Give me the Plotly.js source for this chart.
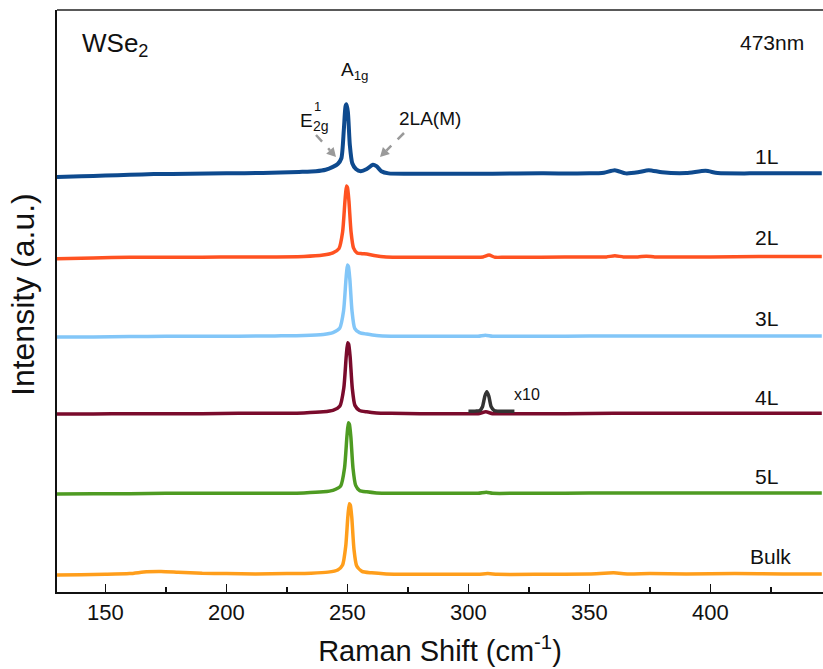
<!DOCTYPE html>
<html>
<head>
<meta charset="utf-8">
<script src="https://cdn.plot.ly/plotly-3.0.1.min.js"></script>
<style>
html,body{margin:0;padding:0;overflow:hidden;background:#fff;}
#chart{width:823px;height:669px;}
</style>
</head>
<body>
<div id="chart"></div>
<script>
// ---- data (Raman shift in cm-1, intensity normalised to A1g peak) ----
const layers = ["1L", "2L", "3L", "4L", "5L", "Bulk"];
const offsets = [5.528, 4.403, 3.306, 2.236, 1.125, 0];

const x1L = [130,140,150,160,170,185,200,215,230,237,241,244,246,247.5,248.5,249.2,249.6,250.2,251,252,253.5,255.5,258,260.5,262,264,267,275,290,310,330,350,356,360.5,365,370,374.5,380,390,398,403,420,446];
const y1L = [0,0.01,0.02,0.03,0.04,0.045,0.05,0.055,0.07,0.08,0.10,0.14,0.18,0.26,0.65,0.98,1.01,0.9,0.44,0.19,0.11,0.08,0.11,0.17,0.15,0.08,0.05,0.045,0.045,0.045,0.05,0.05,0.06,0.095,0.05,0.065,0.095,0.065,0.055,0.085,0.055,0.05,0.05];

const x2L = [130,145,160,175,190,205,220,232,240,244,246.5,248,249,249.6,250,250.6,251.5,252.5,254,256,258,261,266,275,290,303,306,308.5,311,315,330,350,357,360.5,364,370,373.5,377,385,400,420,446];
const y2L = [-0.01,0,0.01,0.01,0.01,0.015,0.015,0.02,0.04,0.07,0.13,0.36,0.8,1.0,0.98,0.8,0.36,0.14,0.07,0.06,0.055,0.035,0.015,0.01,0.01,0.01,0.015,0.04,0.01,0.01,0.01,0.015,0.015,0.03,0.015,0.015,0.025,0.015,0.015,0.015,0.02,0.02];

const x3L = [130,145,160,175,190,205,220,232,240,244,246.8,248.4,249.4,250,250.4,251,251.9,253,255,258,262,268,280,295,304,307,310,320,340,360,375,400,420,446];
const y3L = [0,0,0.005,0.01,0.01,0.01,0.015,0.02,0.035,0.06,0.12,0.36,0.8,1.0,0.98,0.8,0.36,0.12,0.06,0.04,0.02,0.01,0.01,0.01,0.01,0.025,0.01,0.01,0.01,0.015,0.015,0.015,0.015,0.015];

const x4L = [130,145,160,175,190,205,220,232,240,244,246.9,248.5,249.5,250.1,250.5,251.1,252,253.1,255,258,262,268,280,295,304,307.2,310,320,340,360,375,400,420,446];
const y4L = [0,0,0.005,0.005,0.005,0.01,0.01,0.015,0.03,0.05,0.11,0.36,0.8,0.99,0.97,0.8,0.36,0.12,0.05,0.03,0.015,0.01,0.005,0.005,0.005,0.03,0.005,0.005,0.005,0.01,0.01,0.01,0.01,0.01];

const x5L = [130,145,160,175,190,205,220,232,240,244,247.2,248.8,249.8,250.4,250.8,251.4,252.3,253.4,255,258,262,268,280,295,304,307.4,310,320,340,360,375,400,420,446];
const y5L = [0,0.005,0.005,0.01,0.01,0.01,0.01,0.015,0.03,0.05,0.11,0.36,0.8,0.99,0.97,0.8,0.36,0.12,0.05,0.03,0.015,0.01,0.01,0.01,0.01,0.025,0.01,0.01,0.01,0.015,0.015,0.015,0.015,0.015];

const xBulk = [130,140,150,160,167,173,180,190,200,212,225,235,242,246,248,249.3,250.2,250.8,251.2,251.8,252.7,253.8,256,260,266,275,290,304,308,312,330,350,360,366,375,390,410,430,446];
const yBulk = [0,0.005,0.01,0.02,0.045,0.05,0.04,0.025,0.02,0.015,0.02,0.025,0.04,0.07,0.14,0.4,0.82,0.99,0.97,0.8,0.36,0.13,0.05,0.03,0.015,0.01,0.01,0.01,0.02,0.01,0.01,0.015,0.03,0.015,0.02,0.015,0.02,0.015,0.015];

// magnified (x10) 307 cm-1 mode on 4L
const xZoom = [300,303,304.8,305.8,306.8,307.6,308.4,309.4,310.6,312,315,319];
const yZoom = [0.04,0.04,0.05,0.1,0.25,0.31,0.25,0.1,0.05,0.04,0.04,0.04];

const colors = ["#0E4A8E", "#FF5221", "#82C6F8", "#7A0B2C", "#4E9B22", "#FF9E1B"];
const xs = [x1L, x2L, x3L, x4L, x5L, xBulk];
const ys = [y1L, y2L, y3L, y4L, y5L, yBulk];

const FONT = "Liberation Sans, Arial, sans-serif";
const X0 = 130, X1 = 446.5, Y0 = -0.236, Y1 = 7.847;

const traces = layers.map((name, i) => ({
  type: "scatter", mode: "lines", name: name,
  x: xs[i], y: ys[i].map(v => v + offsets[i]),
  line: {color: colors[i], width: i === 0 ? 4 : 3.5, shape: "spline", smoothing: 0.6},
  hoverinfo: "x+name"
}));
traces.push({
  type: "scatter", mode: "lines", name: "4L x10",
  x: xZoom, y: yZoom.map(v => v + offsets[3]),
  line: {color: "#333333", width: 3.5, shape: "spline", smoothing: 0.6},
  hoverinfo: "skip"
});

const labelY = [5.806, 4.681, 3.569, 2.472, 1.375, 0.264];
const annotations = layers.map((name, i) => ({
  x: name === "Bulk" ? 425 : 423, y: labelY[i], xref: "x", yref: "y",
  text: name, showarrow: false, font: {family: FONT, size: 21, color: "#111"},
  xanchor: "center", yanchor: "middle"
}));
const PX = p => (p - 57) / 766;
const PY = p => (592 - p) / 582;
function txt(t, px, py, size, anchor, angle) {
  return {xref: "paper", yref: "paper", x: PX(px), y: PY(py), text: t, showarrow: false,
    font: {family: FONT, size: size, color: "#111"}, xanchor: anchor || "center", yanchor: "middle",
    textangle: angle || 0};
}
annotations.push(txt("WSe<sub>2</sub>", 80, 44, 26, "left"));
annotations.push(txt("473nm", 806, 42, 21, "right"));
annotations.push(txt("A<sub>1g</sub>", 339, 71, 19, "left"));
annotations.push(txt("E", 306.5, 120, 19, "center"));
annotations.push(txt("1", 317.5, 107, 13, "center"));
annotations.push(txt("2g", 320.5, 126, 14, "center"));
annotations.push(txt("2LA(M)", 430, 118, 19, "center"));
annotations.push(txt("x10", 527, 394, 16, "center"));
annotations.push(txt("Intensity (a.u.)", 23, 295, 32, "center", -90));

function tri(pts) {
  return "M" + pts.map(p => PX(p[0]) + "," + PY(p[1])).join(" L") + " Z";
}
const shapes = [
  {type: "line", xref: "paper", yref: "paper", x0: 0, x1: 1, y0: 1, y1: 1, line: {color: "#222", width: 1.5}},
  {type: "line", xref: "paper", yref: "paper", x0: PX(316), y0: PY(135), x1: PX(330), y1: PY(150.3), line: {color: "#9a9a9a", width: 2.5, dash: "dash"}},
  {type: "path", xref: "paper", yref: "paper", path: tri([[336,157],[326.2,153.7],[333.6,146.9]]), fillcolor: "#9a9a9a", line: {width: 0}},
  {type: "line", xref: "paper", yref: "paper", x0: PX(404), y0: PY(133), x1: PX(386.4), y1: PY(150.6), line: {color: "#9a9a9a", width: 2.5, dash: "dash"}},
  {type: "path", xref: "paper", yref: "paper", path: tri([[380,157],[389.9,154.1],[382.9,147.1]]), fillcolor: "#9a9a9a", line: {width: 0}}
];

const layout = {
  width: 823, height: 669,
  margin: {l: 57, r: 0, t: 10, b: 77},
  paper_bgcolor: "#fff", plot_bgcolor: "#fff",
  showlegend: false,
  font: {family: FONT, color: "#111"},
  xaxis: {
    range: [X0, X1], showgrid: false, zeroline: false,
    showline: true, linecolor: "#111", linewidth: 2, mirror: false,
    ticks: "inside", ticklen: 8, tickwidth: 1.5, tickcolor: "#111",
    tickvals: [150, 200, 250, 300, 350, 400],
    minor: {tickvals: [175, 225, 275, 325, 375, 425], ticks: "inside", ticklen: 5, tickwidth: 1.5, tickcolor: "#111"},
    tickfont: {family: FONT, size: 22, color: "#111"},
    title: {text: "Raman Shift (cm<sup>-1</sup>)", font: {family: FONT, size: 29, color: "#111"}, standoff: 16}
  },
  yaxis: {
    range: [Y0, Y1], showgrid: false, zeroline: false,
    showline: true, linecolor: "#111", linewidth: 2,
    ticks: "", showticklabels: false
  },
  annotations: annotations,
  shapes: shapes
};

Plotly.newPlot("chart", traces, layout, {displayModeBar: false, staticPlot: true});
</script>
</body>
</html>
